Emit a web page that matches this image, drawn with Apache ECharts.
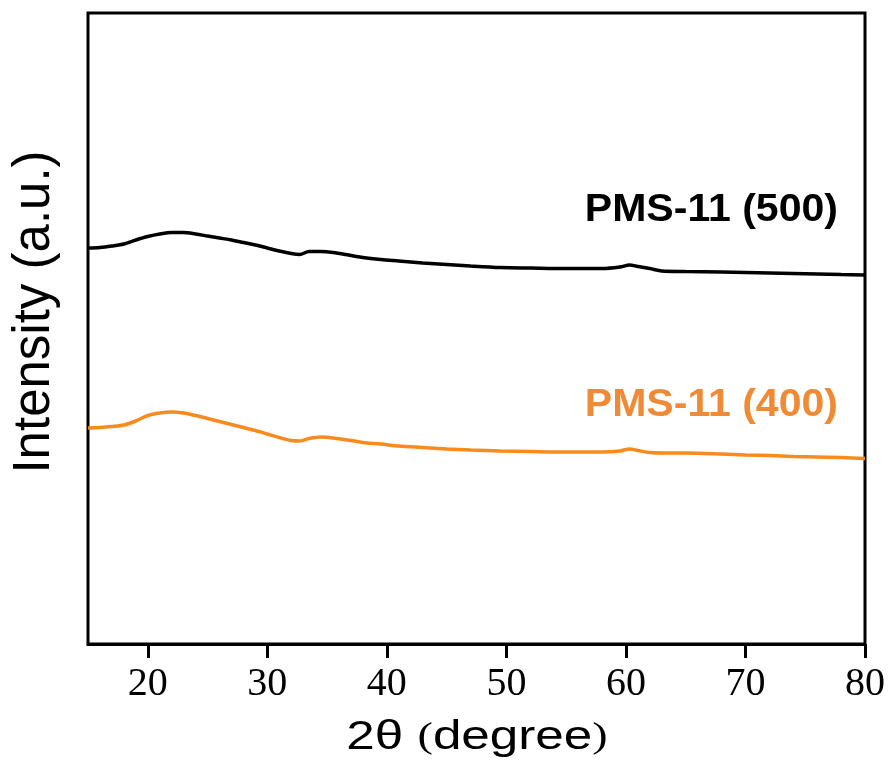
<!DOCTYPE html>
<html>
<head>
<meta charset="utf-8">
<script src="https://cdn.jsdelivr.net/npm/echarts@6/dist/echarts.min.js"></script>
<style>html,body{margin:0;padding:0;background:#fff;}#main{width:893px;height:772px;}</style>
</head>
<body>
<div id="main"></div>
<script>
// 2θ positions (degree)
const twoTheta = [15,16,17,18,19,20,21,22,23,24,25,26,27,28,29,30,31,32,32.7,33.5,34.5,35.5,37,38,39.5,41,43,45,47,49.5,52,55,58,59.5,60.3,61,62,63,65,68,70,72,74,76,78,80];
// Intensity (a.u.), stacked offset traces
const pms500 = [396,396.5,398,400,404,407.5,410,411.5,411.5,410,408,406,404,401.5,399,396,393,390.5,389.5,392.5,392.5,391.5,388.5,386.5,384.5,383,381,379.5,378,376.5,376,375.5,375.5,377,379,377.5,375.5,373,372.5,372,371.5,371,370.5,370,369.5,369];
const pms400 = [216,216.5,217.5,219,223,228.5,231,232,231,228.5,225.5,222.5,219.5,216.5,213.5,210,206.5,203.5,203,205.5,207,206,203.5,201.5,200,198,196.5,195,194,193,192.5,192,192,193,195,193.5,191.5,191,191,190,189,188.5,187.5,187,186.5,185.5];
const xTicks = [20,30,40,50,60,70,80];
const seriesNames = ['PMS-11 (500)','PMS-11 (400)'];

const chart = echarts.init(document.getElementById('main'), null, {renderer:'canvas'});
const pair = (ys) => twoTheta.map((x,i)=>[x, ys[i]]);

chart.setOption({
  backgroundColor:'#ffffff',
  animation:false,
  grid:{left:88, right:28, top:13, bottom:128, show:true, borderColor:'#000', borderWidth:3, backgroundColor:'transparent'},
  xAxis:{
    type:'value', min:15, max:80, splitNumber:6,
    axisLine:{show:true, lineStyle:{color:'#000', width:3}},
    axisTick:{show:true, inside:false, length:14, lineStyle:{color:'#000', width:3}},
    axisLabel:{show:true, margin:20, color:'#000', fontFamily:'Liberation Serif', fontSize:40, customValues:xTicks},
    splitLine:{show:false}
  },
  yAxis:{type:'value', min:0, max:631, show:false},
  series:[
    {name:seriesNames[0], type:'line', data:pair(pms500), showSymbol:false, smooth:0.3, lineStyle:{color:'#000', width:3.5}},
    {name:seriesNames[1], type:'line', data:pair(pms400), showSymbol:false, smooth:0.3, lineStyle:{color:'#F98B1E', width:3.5}}
  ],
  graphic:[
    // mask the automatic edge tick at the axis minimum (15), which the reference does not have
    {type:'rect', z:100, shape:{x:83, y:646, width:10, height:18}, style:{fill:'#fff'}},
    {type:'text', x:35, y:312, rotation:Math.PI/2,
      style:{text:'Intensity (a.u.)', align:'center', verticalAlign:'middle', font:'51px "Liberation Sans"', fill:'#000'}},
    {type:'text', x:477, y:738, scaleX:1.28,
      style:{text:'{a|2θ }{p|(}{a|degree}{p|)}', align:'center', verticalAlign:'middle',
        rich:{a:{fontFamily:'Liberation Sans', fontSize:40, fill:'#000'}, p:{fontFamily:'Liberation Serif', fontSize:36, fill:'#000'}}}},
    {type:'text', x:838, y:211, scaleX:1.08,
      style:{text:seriesNames[0], align:'right', verticalAlign:'middle', font:'bold 38px "Liberation Sans"', fill:'#000'}},
    {type:'text', x:838, y:406, scaleX:1.08,
      style:{text:seriesNames[1], align:'right', verticalAlign:'middle', font:'bold 38px "Liberation Sans"', fill:'#EF8B36'}}
  ]
});
</script>
</body>
</html>
